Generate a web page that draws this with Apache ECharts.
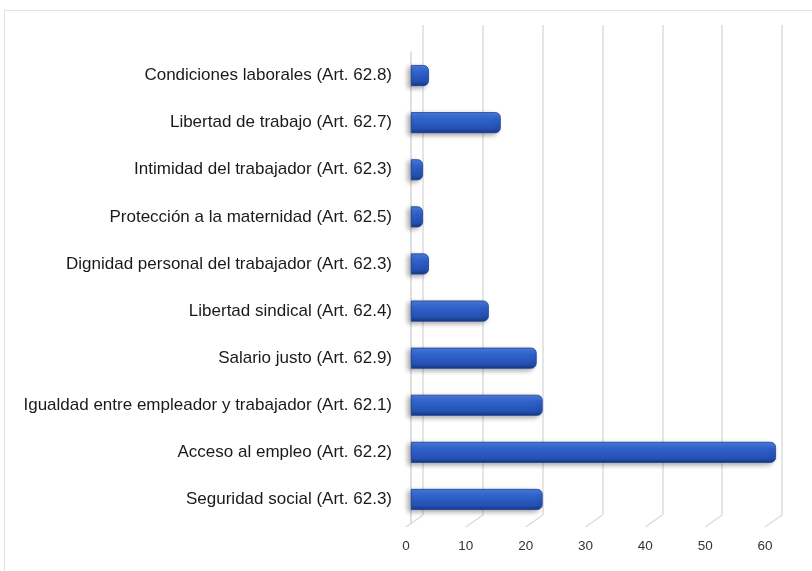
<!DOCTYPE html>
<html>
<head>
<meta charset="utf-8">
<script src="https://cdn.jsdelivr.net/npm/echarts@6/dist/echarts.min.js"></script>
<style>
  html, body { margin: 0; padding: 0; background: #fff; }
  #chart { width: 812px; height: 571px; }
</style>
</head>
<body>
<div id="chart"></div>
<script>
// categories listed bottom to top
var categories = [
  'Seguridad social (Art. 62.3)',
  'Acceso al empleo (Art. 62.2)',
  'Igualdad entre empleador y trabajador (Art. 62.1)',
  'Salario justo (Art. 62.9)',
  'Libertad sindical (Art. 62.4)',
  'Dignidad personal del trabajador (Art. 62.3)',
  'Protección a la maternidad (Art. 62.5)',
  'Intimidad del trabajador (Art. 62.3)',
  'Libertad de trabajo (Art. 62.7)',
  'Condiciones laborales (Art. 62.8)'
];
var values = [22, 61, 22, 21, 13, 3, 2, 2, 15, 3];
var ticks = [0, 10, 20, 30, 40, 50, 60];

var myChart = echarts.init(document.getElementById('chart'));

var barColor = new echarts.graphic.LinearGradient(0, 0, 0, 1, [
  {offset: 0, color: '#4a7fe0'},
  {offset: 0.35, color: '#2f62cc'},
  {offset: 0.8, color: '#2450b0'},
  {offset: 1, color: '#17367e'}
]);

var option = {
  backgroundColor: '#fff',
  animation: false,
  graphic: [{
    type: 'rect',
    shape: {x: 4.5, y: 10.5, width: 820, height: 580},
    style: {fill: 'none', stroke: '#e0e0e0', lineWidth: 1},
    silent: true
  }],
  grid: [
    // bars (0..62 over 371px, same scale as the 60-wide front axis)
    {left: 411, right: 30, top: 52, bottom: 48},
    // back wall gridlines
    {left: 423, right: 30, top: 25, bottom: 56},
    // front axis labels
    {left: 406, right: 47, top: 25, bottom: 42}
  ],
  xAxis: [
    {
      gridIndex: 0, type: 'value', min: 0, max: 62,
      axisLine: {show: false}, axisTick: {show: false},
      axisLabel: {show: false}, splitLine: {show: false}
    },
    {
      gridIndex: 1, type: 'value', min: 0, max: 60, interval: 10,
      axisLine: {show: false}, axisTick: {show: false},
      axisLabel: {show: false},
      splitLine: {show: true, lineStyle: {color: '#dcdcdc', width: 1.5}}
    },
    {
      gridIndex: 2, type: 'value', min: 0, max: 60, interval: 10,
      axisLine: {show: false}, axisTick: {show: false},
      splitLine: {show: false},
      axisLabel: {
        margin: 10, color: '#333', fontSize: 13.5,
        fontFamily: 'Liberation Sans, Arial, sans-serif'
      }
    }
  ],
  yAxis: [
    {
      gridIndex: 0, type: 'category', data: categories, offset: 4,
      axisLine: {show: true, lineStyle: {color: '#d6d6d6', width: 1.5}},
      axisTick: {show: false},
      axisLabel: {
        margin: 15, color: '#1a1a1a', fontSize: 17,
        fontFamily: 'Liberation Sans, Arial, sans-serif'
      }
    },
    {gridIndex: 1, type: 'value', show: false, min: 0, max: 1},
    {gridIndex: 2, type: 'value', show: false, min: 0, max: 1}
  ],
  series: [
    {
      // floor diagonals joining back gridlines to front ticks
      type: 'custom',
      xAxisIndex: 2, yAxisIndex: 2,
      silent: true,
      data: ticks,
      renderItem: function (params, api) {
        var p = api.coord([api.value(0), 0]);
        return {
          type: 'line',
          shape: {x1: p[0], y1: p[1] - 2, x2: p[0] + 17, y2: p[1] - 14},
          style: {stroke: '#dcdcdc', lineWidth: 1.5}
        };
      },
      encode: {x: 0}
    },
    {
      type: 'bar',
      xAxisIndex: 0, yAxisIndex: 0,
      data: values,
      barWidth: 21,
      itemStyle: {
        color: barColor,
        borderColor: '#1d3f95',
        borderWidth: 0.8,
        borderRadius: [0, 5, 5, 0],
        shadowColor: 'rgba(0,0,0,0.35)',
        shadowBlur: 5,
        shadowOffsetX: -3,
        shadowOffsetY: 2
      }
    }
  ]
};
myChart.setOption(option);
</script>
</body>
</html>
